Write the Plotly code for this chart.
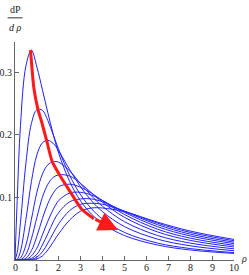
import plotly.graph_objects as go

rho = [0, 0.1, 0.25, 0.5, 0.75, 1, 1.25, 1.5, 1.75, 2, 2.5, 3, 3.5, 4, 5, 6.5, 8, 10]

c1 = [0, 0.095, 0.215, 0.31, 0.335, 0.308, 0.272, 0.235, 0.2, 0.17, 0.125, 0.094, 0.073, 0.058, 0.039, 0.024, 0.016, 0.0105]
c2 = [0, 0.012, 0.06, 0.155, 0.218, 0.240, 0.239, 0.2225, 0.1996, 0.1759, 0.1348, 0.1039, 0.0816, 0.0653, 0.044, 0.0271, 0.0183, 0.0118]
c3 = [0, 0.001, 0.014, 0.065, 0.125, 0.168, 0.187, 0.191, 0.186, 0.1738, 0.144, 0.1165, 0.0943, 0.077, 0.0533, 0.0334, 0.0227, 0.0148]
c4 = [0, 0, 0.003, 0.024, 0.065, 0.108, 0.137, 0.152, 0.157, 0.156, 0.1421, 0.1216, 0.1021, 0.0856, 0.0611, 0.0392, 0.027, 0.0178]
c5 = [0, 0, 0.0003, 0.009, 0.034, 0.068, 0.1, 0.121, 0.132, 0.136, 0.134, 0.1221, 0.1069, 0.092, 0.0681, 0.0449, 0.0313, 0.0208]
c6 = [0, 0, 0, 0.003, 0.015, 0.038, 0.066, 0.09, 0.107, 0.117, 0.121, 0.116, 0.1065, 0.0946, 0.0726, 0.0493, 0.0349, 0.0234]
c7 = [0, 0, 0, 0.0008, 0.0065, 0.019, 0.04, 0.062, 0.081, 0.095, 0.107, 0.108, 0.1035, 0.095, 0.076, 0.0533, 0.0384, 0.0261]
c8 = [0, 0, 0, 0.0002, 0.0025, 0.009, 0.024, 0.042, 0.061, 0.076, 0.093, 0.0975, 0.0975, 0.0928, 0.0776, 0.0565, 0.0413, 0.0285]
c9 = [0, 0, 0, 0, 0.0008, 0.0045, 0.013, 0.027, 0.043, 0.058, 0.079, 0.089, 0.0905, 0.089, 0.078, 0.0589, 0.044, 0.0308]
c10 = [0, 0, 0, 0, 0.0002, 0.0018, 0.0065, 0.016, 0.029, 0.042, 0.064, 0.078, 0.083, 0.083, 0.077, 0.0605, 0.0462, 0.0328]
curves = [c1, c2, c3, c4, c5, c6, c7, c8, c9, c10]

arrow_rho = [0.71, 0.86, 1.05, 1.22, 1.45, 1.7, 2.1, 2.5, 3.05, 3.6]
arrow_val = [0.335, 0.275, 0.24, 0.22, 0.19, 0.157, 0.132, 0.11, 0.081, 0.066]
arrow_tip = (4.7, 0.048)

x_ticks = list(range(0, 11))
y_ticks = [0.1, 0.2, 0.3]

FONT = "Liberation Serif"
AX = "#666666"

L, R, T, B = 15.4, 14.7, 41.7, 15
W, H = 249, 275

fig = go.Figure()
for c in curves:
    fig.add_trace(go.Scatter(x=rho, y=c, mode="lines",
                             line=dict(color="#2020ff", width=1, shape="spline", smoothing=1.0),
                             hoverinfo="skip"))

fig.add_trace(go.Scatter(x=arrow_rho, y=arrow_val, mode="lines",
                         line=dict(color="#ff1a1a", width=3, shape="spline", smoothing=0.6),
                         hoverinfo="skip"))
fig.add_annotation(x=arrow_tip[0], y=arrow_tip[1], ax=arrow_rho[-1], ay=arrow_val[-1],
                   xref="x", yref="y", axref="x", ayref="y", text="",
                   showarrow=True, arrowhead=2, arrowsize=1.3, arrowwidth=3, arrowcolor="#ff1a1a")

fig.update_layout(
    width=W, height=H,
    margin=dict(l=L, r=R, t=T, b=B, autoexpand=False),
    plot_bgcolor="white", paper_bgcolor="white",
    showlegend=False,
    font=dict(family=FONT, size=10, color="#222222"),
    xaxis=dict(range=[0, 10], tickvals=x_ticks, showticklabels=False,
               ticks="inside", ticklen=4, tickcolor=AX, showline=True, linecolor=AX, linewidth=1,
               showgrid=False, zeroline=False, automargin=False),
    yaxis=dict(range=[0, 0.348], tickvals=y_ticks, ticktext=["0.1", "0.2", "0.3"],
               ticks="inside", ticklen=4, tickcolor=AX, showline=True, linecolor=AX, linewidth=1,
               showgrid=False, zeroline=False, automargin=False,
               tickfont=dict(family=FONT, size=10)),
)

pw = W - L - R
ph = H - T - B
def px(xp):
    return (xp - L) / pw
def py(yp):
    return (H - B - yp) / ph

for t in x_ticks:
    fig.add_annotation(text=str(t), x=t, y=py(268), xref="x", yref="paper", showarrow=False,
                       xanchor="center", yanchor="middle", font=dict(family=FONT, size=10))

fig.add_annotation(text="dP", x=px(15.5), y=py(9), xref="paper", yref="paper", showarrow=False,
                   xanchor="center", yanchor="middle", font=dict(family=FONT, size=10))
fig.add_annotation(text="<i>d ρ</i>", x=px(15.5), y=py(27), xref="paper", yref="paper", showarrow=False,
                   xanchor="center", yanchor="middle", font=dict(family=FONT, size=10))
fig.add_annotation(text="<i>ρ</i>", x=px(244), y=py(258), xref="paper", yref="paper", showarrow=False,
                   xanchor="center", yanchor="middle", font=dict(family=FONT, size=10))
fig.add_shape(type="line", xref="paper", yref="paper", x0=px(8), x1=px(23), y0=py(17.5), y1=py(17.5),
              line=dict(color="#333333", width=1))

fig.write_html("out.html", config={"displayModeBar": False},
               post_script="document.body.style.margin='0';document.body.style.padding='0';"
                           "document.body.style.overflow='hidden';")
